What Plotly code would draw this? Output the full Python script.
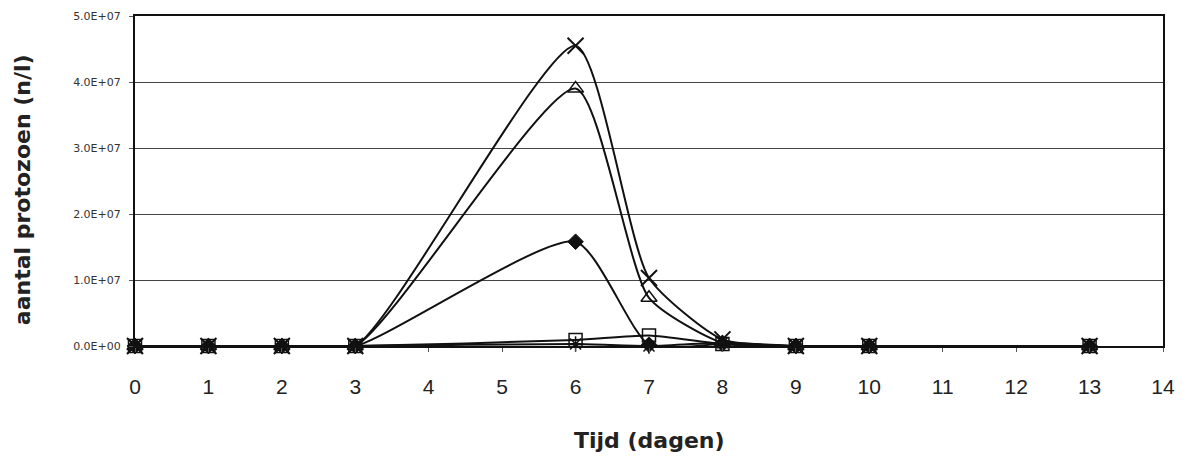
import plotly.graph_objects as go

days = [0, 1, 2, 3, 6, 7, 8, 9, 10, 13]
serie_ruit = [0, 0, 0, 0, 1.58e7, 2.0e5, 3.0e5, 0, 0, 0]
serie_vierkant = [0, 0, 0, 0, 9.0e5, 1.6e6, 3.0e5, 0, 0, 0]
serie_driehoek = [0, 0, 0, 0, 3.9e7, 7.3e6, 5.0e5, 0, 0, 0]
serie_kruis = [0, 0, 0, 0, 4.55e7, 1.03e7, 1.0e6, 0, 0, 0]
serie_ster = [0, 0, 0, 0, 3.0e5, 0, 5.0e5, 0, 0, 0]

y_tickvals = [0, 1e7, 2e7, 3e7, 4e7, 5e7]
y_ticktext = ["0.0E+00", "1.0E+07", "2.0E+07", "3.0E+07", "4.0E+07", "5.0E+07"]
x_tickvals = list(range(0, 15))

series = [
    (serie_ruit, dict(symbol="diamond", size=12, color="#111", line=dict(color="#111", width=1))),
    (serie_vierkant, dict(symbol="square-open", size=13, color="#111", line=dict(color="#111", width=1.5))),
    (serie_driehoek, dict(symbol="triangle-up-open", size=14, color="#111", line=dict(color="#111", width=1.5))),
    (serie_kruis, dict(symbol="x-thin-open", size=16, color="#111", line=dict(color="#111", width=2))),
    (serie_ster, dict(symbol="asterisk-open", size=13, color="#111", line=dict(color="#111", width=1.5))),
]

fig = go.Figure()
for ys, mk in series:
    fig.add_trace(go.Scatter(
        x=days, y=ys, mode="lines+markers",
        line=dict(color="#111", width=2, shape="spline", smoothing=0.6),
        marker=mk, cliponaxis=False, showlegend=False,
    ))

title_font = dict(family="DejaVu Sans, sans-serif", size=22, color="#222")
fig.add_annotation(text="<b>Tijd (dagen)</b>", xref="paper", yref="paper",
                   x=0.5, y=-0.285, xanchor="center", yanchor="middle",
                   showarrow=False, font=title_font)
fig.add_annotation(text="<b>aantal protozoen (n/l)</b>", xref="paper", yref="paper",
                   x=-0.11, y=0.475, xanchor="center", yanchor="middle", textangle=-90,
                   showarrow=False, font=title_font)

fig.update_layout(
    width=1189, height=456,
    margin=dict(l=135, r=26, t=16, b=110, autoexpand=False),
    paper_bgcolor="white", plot_bgcolor="white",
    font=dict(family="Liberation Sans, Arial, sans-serif", color="#222"),
    xaxis=dict(
        range=[0, 14], tickvals=x_tickvals, ticktext=[str(v) for v in x_tickvals],
        showgrid=False, zeroline=False, showline=True, linecolor="#111", linewidth=2,
        mirror=True, ticks="outside", ticklen=4, tickcolor="#555", automargin=False,
        tickfont=dict(size=21, color="#222"), ticklabelstandoff=17,
    ),
    yaxis=dict(
        range=[0, 5e7], tickvals=y_tickvals, ticktext=y_ticktext,
        showgrid=True, gridcolor="#444", gridwidth=1, zeroline=False,
        showline=True, linecolor="#111", linewidth=2, mirror=True, automargin=False,
        ticks="outside", ticklen=4, tickcolor="#555", ticklabelstandoff=6,
        tickfont=dict(family="DejaVu Sans, sans-serif", size=11, color="#333"),
    ),
)

fig.write_html("out.html")
